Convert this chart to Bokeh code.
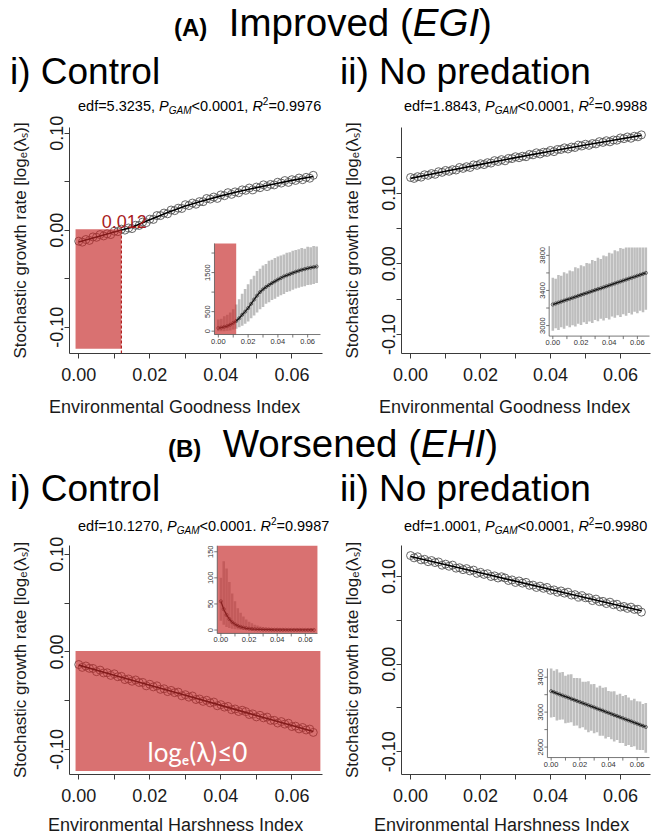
import math
from bokeh.plotting import figure
from bokeh.models import Range1d, FixedTicker, Div, Label, PrintfTickFormatter
from bokeh.layouts import column, row
from bokeh.embed import file_html
from bokeh.resources import INLINE
from bokeh.core.properties import value

FONT = "Liberation Sans"
RED = "#C62828"
DARKRED = "#A81C1C"
BAND = "#BEBEBE"

# ---------------- data ----------------
x_main = [0.000,0.001,0.002,0.003,0.004,0.005,0.006,0.007,0.008,0.009,0.010,0.011,0.012,0.013,0.014,0.015,0.016,
          0.017,0.018,0.019,0.020,0.021,0.022,0.023,0.024,0.025,0.026,0.027,0.028,0.029,0.030,0.031,0.032,0.033,
          0.034,0.035,0.036,0.037,0.038,0.039,0.040,0.041,0.042,0.043,0.044,0.045,0.046,0.047,0.048,0.049,0.050,
          0.051,0.052,0.053,0.054,0.055,0.056,0.057,0.058,0.059,0.060,0.061,0.062,0.063,0.064,0.065,0.066]

ai_points = [-0.0112,-0.0122,-0.0095,-0.0104,-0.0068,-0.0072,-0.0044,-0.0058,-0.0036,-0.0044,
             -0.0009,-0.0014,0.0012,0.0002,0.0024,0.0018,0.0052,0.0050,0.0085,0.0079,
             0.0115,0.0112,0.0152,0.0152,0.0178,0.0170,0.0209,0.0203,0.0228,0.0225,
             0.0264,0.0255,0.0281,0.0269,0.0296,0.0295,0.0328,0.0322,0.0343,0.0329,
             0.0365,0.0357,0.0388,0.0371,0.0396,0.0387,0.0417,0.0412,0.0436,0.0417,
             0.0446,0.0439,0.0469,0.0451,0.0473,0.0468,0.0496,0.0487,0.0513,0.0494,
             0.0522,0.0514,0.0539,0.0522,0.0546,0.0537,0.0567]
ai_fit_x = [0.0,0.005,0.01,0.015,0.02,0.025,0.03,0.035,0.04,0.045,0.05,0.055,0.06,0.066]
ai_fit_y = [-0.0120,-0.0068,-0.0018,0.0032,0.0108,0.0183,0.0250,0.0305,0.0355,0.0400,0.0440,0.0478,0.0515,0.0555]

aii_points = [0.1222,0.1209,0.1234,0.1227,0.1261,0.1253,0.1278,0.1267,0.1304,0.1295,
              0.1322,0.1310,0.1333,0.1328,0.1364,0.1351,0.1375,0.1364,0.1401,0.1394,
              0.1417,0.1405,0.1432,0.1426,0.1461,0.1449,0.1475,0.1458,0.1492,0.1490,
              0.1516,0.1502,0.1523,0.1516,0.1549,0.1543,0.1572,0.1555,0.1580,0.1577,
              0.1605,0.1588,0.1619,0.1619,0.1642,0.1626,0.1653,0.1647,0.1680,0.1669,
              0.1693,0.1677,0.1703,0.1698,0.1730,0.1719,0.1743,0.1727,0.1753,0.1750,
              0.1782,0.1772,0.1796,0.1778,0.1806,0.1798,0.1826]
aii_fit_x = [0.0,0.01,0.02,0.03,0.04,0.05,0.06,0.066]
aii_fit_y = [0.1210,0.1311,0.1408,0.1503,0.1594,0.1683,0.1768,0.1818]

bi_points = [-0.0129,-0.0158,-0.0144,-0.0168,-0.0169,-0.0202,-0.0186,-0.0215,-0.0213,-0.0240,
             -0.0224,-0.0254,-0.0250,-0.0283,-0.0277,-0.0300,-0.0287,-0.0313,-0.0312,-0.0347,
             -0.0331,-0.0358,-0.0347,-0.0383,-0.0377,-0.0406,-0.0394,-0.0417,-0.0411,-0.0449,
             -0.0438,-0.0463,-0.0451,-0.0487,-0.0482,-0.0506,-0.0495,-0.0522,-0.0513,-0.0551,
             -0.0540,-0.0565,-0.0558,-0.0591,-0.0584,-0.0610,-0.0597,-0.0611,-0.0641,-0.0635,
             -0.0665,-0.0649,-0.0675,-0.0667,-0.0701,-0.0700,-0.0728,-0.0713,-0.0739,-0.0730,
             -0.0764,-0.0760,-0.0788,-0.0774,-0.0799,-0.0790,-0.0824]
bi_fit_x = [0.0,0.01,0.02,0.03,0.04,0.05,0.06,0.066]
bi_fit_y = [-0.0135,-0.0238,-0.0341,-0.0444,-0.0547,-0.0650,-0.0753,-0.0815]

bii_points = [0.1240,0.1214,0.1226,0.1191,0.1197,0.1170,0.1183,0.1160,0.1167,0.1130,
              0.1142,0.1118,0.1131,0.1096,0.1101,0.1079,0.1091,0.1064,0.1074,0.1037,
              0.1049,0.1025,0.1033,0.1001,0.1008,0.0984,0.0998,0.0984,0.0955,0.0962,
              0.0933,0.0950,0.0925,0.0934,0.0900,0.0903,0.0876,0.0891,0.0866,0.0876,
              0.0843,0.0848,0.0821,0.0836,0.0811,0.0822,0.0789,0.0794,0.0766,0.0781,
              0.0758,0.0758,0.0726,0.0743,0.0714,0.0717,0.0692,0.0708,0.0679,0.0684,
              0.0652,0.0659,0.0637,0.0651,0.0625,0.0627,0.0594]
bii_fit_x = [0.0,0.022,0.044,0.066]
bii_fit_y = [0.1230,0.1023,0.0816,0.0610]

# insets (population size with spread)
x_inset = [0.000,0.002,0.004,0.006,0.008,0.010,0.012,0.014,0.016,0.018,0.020,0.022,0.024,0.026,0.028,0.030,0.032,
           0.034,0.036,0.038,0.040,0.042,0.044,0.046,0.048,0.050,0.052,0.054,0.056,0.058,0.060,0.062,0.064,0.066]

ai_in_mean = [80,90,110,130,165,210,260,330,420,500,590,700,810,910,1000,1070,1130,1180,1230,1275,
              1320,1360,1400,1430,1460,1490,1520,1545,1570,1590,1610,1625,1640,1655]
ai_in_hi = [300,320,380,420,480,560,680,820,960,1080,1200,1330,1420,1540,1600,1680,1720,1800,1830,1870,
            1910,1940,1960,2010,2020,2060,2080,2100,2130,2110,2160,2150,2180,2170]
ai_in_lo = [0,0,0,10,20,40,60,100,140,190,250,330,400,480,560,620,700,740,800,830,
            880,920,950,1000,1020,1060,1090,1110,1140,1150,1180,1190,1210,1230]

aii_in_mean = [3240,3251,3262,3273,3284,3295,3305,3316,3327,3338,3349,3360,3371,3382,3393,3404,3415,3425,
               3436,3447,3458,3469,3480,3491,3502,3513,3524,3535,3545,3556,3567,3578,3589,3600]
aii_in_hi = [3545,3534,3575,3568,3607,3594,3627,3619,3664,3654,3688,3675,3714,3707,3747,3737,3773,3759,
             3798,3791,3831,3821,3857,3846,3884,3876,3890,3890,3890,3890,3890,3890,3890,3890]
aii_in_lo = [2942,2969,2950,2980,2965,2998,2980,3005,2988,3022,3007,3038,3019,3047,3030,3063,3048,3079,
             3058,3087,3070,3103,3088,3118,3099,3128,3111,3144,3127,3158,3139,3168,3153,3179]

bi_in_mean = [55,40,29,21,15,11,8,6,4.5,3.4,2.6,2.0,1.6,1.3,1.1,0.9,0.8,0.7,0.6,0.5,
              0.5,0.4,0.4,0.4,0.3,0.3,0.3,0.3,0.3,0.2,0.2,0.2,0.2,0.2]
bi_in_hi = [100,132,118,92,70,55,42,33,26,20,16,13,10,8.5,7,6,5,4.5,4,3.5,
            3.2,3,2.8,2.6,2.4,2.2,2.1,2,1.9,1.8,1.7,1.6,1.6,1.5]
bi_in_lo = [18,10,6,4,2.5,1.5,1.0,0.5,0.3,0.2,0.1,0,0,0,0,0,0,0,0,0,
            0,0,0,0,0,0,0,0,0,0,0,0,0,0]

bii_in_mean = [3240,3228,3215,3203,3190,3178,3166,3153,3141,3128,3116,3104,3091,3079,3066,3054,3041,3029,
               3017,3004,2992,2979,2967,2955,2942,2930,2917,2905,2893,2880,2868,2855,2843,2830]
bii_in_hi = [3500,3473,3490,3453,3460,3418,3431,3433,3391,3390,3388,3349,3349,3355,3318,3322,3283,3301,
             3279,3286,3242,3237,3239,3200,3210,3185,3195,3167,3137,3152,3126,3123,3093,3105]
bii_in_lo = [2940,2943,2905,2913,2915,2873,2878,2883,2843,2846,2816,2828,2799,2771,2786,2759,2769,2729,
             2731,2699,2714,2689,2665,2680,2646,2646,2611,2625,2601,2610,2568,2567,2567,2534]

THRESH = 0.012
X_RANGE = (-0.0026, 0.0686)
X_MAJOR = [0.0, 0.02, 0.04, 0.06]
X_MINOR = [0.01, 0.03, 0.05]
Y_MAJOR = [-0.10, 0.0, 0.10]
Y_MINOR = [-0.05, 0.05, 0.15]
INSET_X_MAJOR = [0.0, 0.02, 0.04, 0.06]
INSET_X_ALL = [0.0, 0.01, 0.02, 0.03, 0.04, 0.05, 0.06]
INSET_X_LABELS = ["0.00", "0.02", "0.04", "0.06"]

YLABEL = "Stochastic growth rate [log\u2091(\u03bb\u209b)]"
XLABEL_A = "Environmental Goodness Index"
XLABEL_B = "Environmental Harshness Index"


def panel(width, height, bl, br, bt, bb, yr):
    p = figure(width=width, height=height, x_range=Range1d(*X_RANGE), y_range=Range1d(*yr),
               output_backend="svg", toolbar_location=None,
               min_border_left=bl, min_border_right=br, min_border_top=bt, min_border_bottom=bb)
    p.outline_line_color = None
    p.xgrid.visible = False
    p.ygrid.visible = False
    p.xaxis.ticker = FixedTicker(ticks=X_MAJOR, minor_ticks=X_MINOR)
    p.yaxis.ticker = FixedTicker(ticks=Y_MAJOR, minor_ticks=Y_MINOR)
    for ax in (p.xaxis[0], p.yaxis[0]):
        ax.formatter = PrintfTickFormatter(format="%.2f")
        ax.axis_line_color = "#3a3a3a"
        ax.major_tick_line_color = "#3a3a3a"
        ax.minor_tick_line_color = "#3a3a3a"
        ax.major_tick_out = 5
        ax.major_tick_in = 0
        ax.minor_tick_out = 5
        ax.minor_tick_in = 0
        ax.major_label_text_font = FONT
        ax.major_label_text_font_size = "18px"
        ax.major_label_text_color = "#1a1a1a"
        ax.axis_label_text_font = FONT
        ax.axis_label_text_font_style = "normal"
        ax.axis_label_text_color = "#1a1a1a"
    p.xaxis.major_label_standoff = 9
    p.yaxis.major_label_standoff = 1
    p.yaxis.major_label_orientation = "vertical"
    p.yaxis.axis_label = YLABEL
    p.yaxis.axis_label_text_font_size = "17px"
    p.yaxis.axis_label_standoff = 18
    return p


def main_data(p, pts, fx, fy):
    p.scatter(x_main, pts, size=8, marker="circle", fill_color=None, line_color="#555555", line_width=0.9)
    p.line(fx, fy, line_color="black", line_width=1.6)


def add_inset(p, fw, fh, frac, yr, mean, lo, hi, yt_all, yt_lab, red_x1=None, red_all=False):
    xr = X_RANGE
    fx0, fx1, fy0, fy1 = frac
    spx = (xr[1] - xr[0]) / (fx1 - fx0)
    sx0 = xr[0] - fx0 * spx
    spy = (yr[1] - yr[0]) / (fy1 - fy0)
    sy0 = yr[0] - fy0 * spy
    p.extra_x_ranges = {"ins": Range1d(sx0, sx0 + spx)}
    p.extra_y_ranges = {"ins": Range1d(sy0, sy0 + spy)}
    kw = dict(x_range_name="ins", y_range_name="ins")
    ux = spx / fw
    uy = spy / fh
    p.vbar(x=x_inset, bottom=lo, top=hi, width=0.0018, fill_color=BAND, line_color=None, **kw)
    p.line(x_inset, mean, line_color="#111111", line_width=1.3, **kw)
    p.scatter(x_inset, mean, size=3.2, marker="circle", fill_color=None, line_color="#222222",
              line_width=0.6, **kw)
    if red_x1 is not None:
        p.quad(left=[xr[0]], right=[red_x1], bottom=[yr[0]], top=[yr[1]], fill_color=RED,
               fill_alpha=0.66, line_color=None, **kw)
    if red_all:
        p.quad(left=[xr[0]], right=[xr[1]], bottom=[yr[0]], top=[yr[1]], fill_color=RED,
               fill_alpha=0.66, line_color=None, **kw)
    # L-shaped axes
    p.segment(x0=[xr[0], xr[0]], y0=[yr[0], yr[0]], x1=[xr[0], xr[1]], y1=[yr[1], yr[0]],
              line_color="#555555", line_width=0.8, **kw)
    n = len(INSET_X_ALL)
    p.segment(x0=INSET_X_ALL, y0=[yr[0]] * n, x1=INSET_X_ALL, y1=[yr[0] - 3 * uy] * n,
              line_color="#555555", line_width=0.8, **kw)
    p.text(x=INSET_X_MAJOR, y=[yr[0] - 4 * uy] * len(INSET_X_MAJOR), text=INSET_X_LABELS,
           text_align="center", text_baseline="top", text_font=value(FONT),
           text_font_size="7.5px", text_color="#333333", **kw)
    m = len(yt_all)
    p.segment(x0=[xr[0]] * m, y0=yt_all, x1=[xr[0] - 3 * ux] * m, y1=yt_all,
              line_color="#555555", line_width=0.8, **kw)
    p.text(x=[xr[0] - 4 * ux] * len(yt_lab), y=yt_lab, text=[str(v) for v in yt_lab],
           angle=math.pi / 2, text_align="center", text_baseline="bottom", text_font=value(FONT),
           text_font_size="7.5px", text_color="#333333", **kw)


LW, RW = 326, 326
# ---------- A-i ----------
pAi = panel(LW, 276, 69, 4, 12, 38, (-0.127, 0.106))
main_data(pAi, ai_points, ai_fit_x, ai_fit_y)
pAi.quad(left=[-0.0009], right=[THRESH], bottom=[-0.122], top=[0.001], fill_color=RED,
         fill_alpha=0.66, line_color=None)
pAi.segment(x0=[THRESH], y0=[-0.127], x1=[THRESH], y1=[0.0], line_color="#B22222",
            line_dash="3 2", line_width=1.2)
pAi.add_layout(Label(x=0.0128, y=0.0088, text="0.012", text_align="center",
                     text_baseline="alphabetic", text_font=FONT, text_font_size="18px",
                     text_color=DARKRED))
add_inset(pAi, 253, 226, (0.573, 0.992, 0.084, 0.487), (-86, 2246), ai_in_mean, ai_in_lo, ai_in_hi,
          [0, 500, 1000, 1500, 2000], [0, 500, 1500], red_x1=THRESH)

# ---------- A-ii ----------
pAii = panel(RW, 276, 75, 2, 12, 38, (-0.127, 0.193))
main_data(pAii, aii_points, aii_fit_x, aii_fit_y)
add_inset(pAii, 249, 226, (0.593, 0.996, 0.077, 0.475), (2880, 3905), aii_in_mean, aii_in_lo, aii_in_hi,
          [3000, 3200, 3400, 3600, 3800], [3000, 3400, 3800])

# ---------- B-i ----------
pBi = panel(LW, 276, 69, 4, 9, 38, (-0.1255, 0.109))
main_data(pBi, bi_points, bi_fit_x, bi_fit_y)
pBi.quad(left=[-0.0009], right=[0.068], bottom=[-0.122], top=[0.001], fill_color=RED,
         fill_alpha=0.66, line_color=None)
pBi.add_layout(Label(x=0.0334, y=-0.1027, text="log\u2091(\u03bb)\u22640", text_align="center",
                     text_baseline="alphabetic", text_font="Lato", text_font_size="26px",
                     text_color="white"))
add_inset(pBi, 253, 229, (0.584, 0.98, 0.616, 1.0), (-6.5, 162), bi_in_mean, bi_in_lo, bi_in_hi,
          [0, 50, 100, 150], [0, 50, 100, 150], red_all=True)

# ---------- B-ii ----------
pBii = panel(RW, 276, 75, 2, 9, 38, (-0.126, 0.1355))
main_data(pBii, bii_points, bii_fit_x, bii_fit_y)
add_inset(pBii, 249, 229, (0.586, 0.996, 0.074, 0.463), (2480, 3500), bii_in_mean, bii_in_lo, bii_in_hi,
          [2600, 2800, 3000, 3200, 3400], [2600, 3000, 3400])


# ---------- text blocks ----------
def tdiv(html, width, height, style):
    return Div(text=f'<div style="box-sizing:border-box;font-family:\'{FONT}\';color:#000;white-space:nowrap;{style}">{html}</div>',
               width=width, height=height, margin=(0, 0, 0, 0))


def stats_html(edf, p_sep, r2):
    return (f'edf={edf}, <i>P</i><span style="font-style:italic;font-size:10px;position:relative;top:3px">GAM</span>'
            f'&lt;0.0001{p_sep} <i>R</i><span style="font-size:10px;position:relative;top:-6px">2</span>={r2}')


def stats_div(html, height, pad_top, lh):
    return tdiv(html, 326, height,
                f"font-size:14.5px;line-height:{lh}px;padding-top:{pad_top}px;padding-left:78px;"
                f"width:326px;text-align:left;")


def xlab_div(text, height, pad_left):
    return tdiv(text, 326, height,
                f"font-size:18px;line-height:{height}px;padding-left:{pad_left}px;color:#1a1a1a;")


titleA = tdiv('<b style="font-size:24px">(A)</b>&nbsp; Improved (<i>EGI</i>)', 652, 46,
              "font-size:38.5px;line-height:46px;text-align:center;padding-left:14px;width:652px;")
rowA_t = row(tdiv("i) Control", 326, 52, "font-size:37px;line-height:52px;padding-left:10px;"),
             tdiv("ii) No predation", 326, 52, "font-size:37px;line-height:52px;padding-left:14px;"))
rowA_s = row(stats_div(stats_html("5.3235", ",", "0.9976"), 17, 0, 17),
             stats_div(stats_html("1.8843", ",", "0.9988"), 17, 0, 17))
rowA_p = row(pAi, pAii)
rowA_x = row(xlab_div(XLABEL_A, 32, 49), xlab_div(XLABEL_A, 32, 53))

titleB = tdiv('<b style="font-size:24px">(B)</b>&nbsp; Worsened (<i>EHI</i>)', 652, 42,
              "font-size:38.5px;line-height:42px;text-align:center;padding-left:14px;width:652px;")
rowB_t = row(tdiv("i) Control", 326, 48, "font-size:37px;line-height:48px;padding-left:10px;"),
             tdiv("ii) No predation", 326, 48, "font-size:37px;line-height:48px;padding-left:14px;"))
rowB_s = row(stats_div(stats_html("10.1270", ".", "0.9987"), 23, 3, 20),
             stats_div(stats_html("1.0001", ",", "0.9980"), 23, 3, 20))
rowB_p = row(pBi, pBii)
rowB_x = row(xlab_div(XLABEL_B, 26, 48), xlab_div(XLABEL_B, 26, 48))

layout = column(titleA, rowA_t, rowA_s, rowA_p, rowA_x, titleB, rowB_t, rowB_s, rowB_p, rowB_x)

open("out.html", "w").write(file_html(layout, INLINE))
